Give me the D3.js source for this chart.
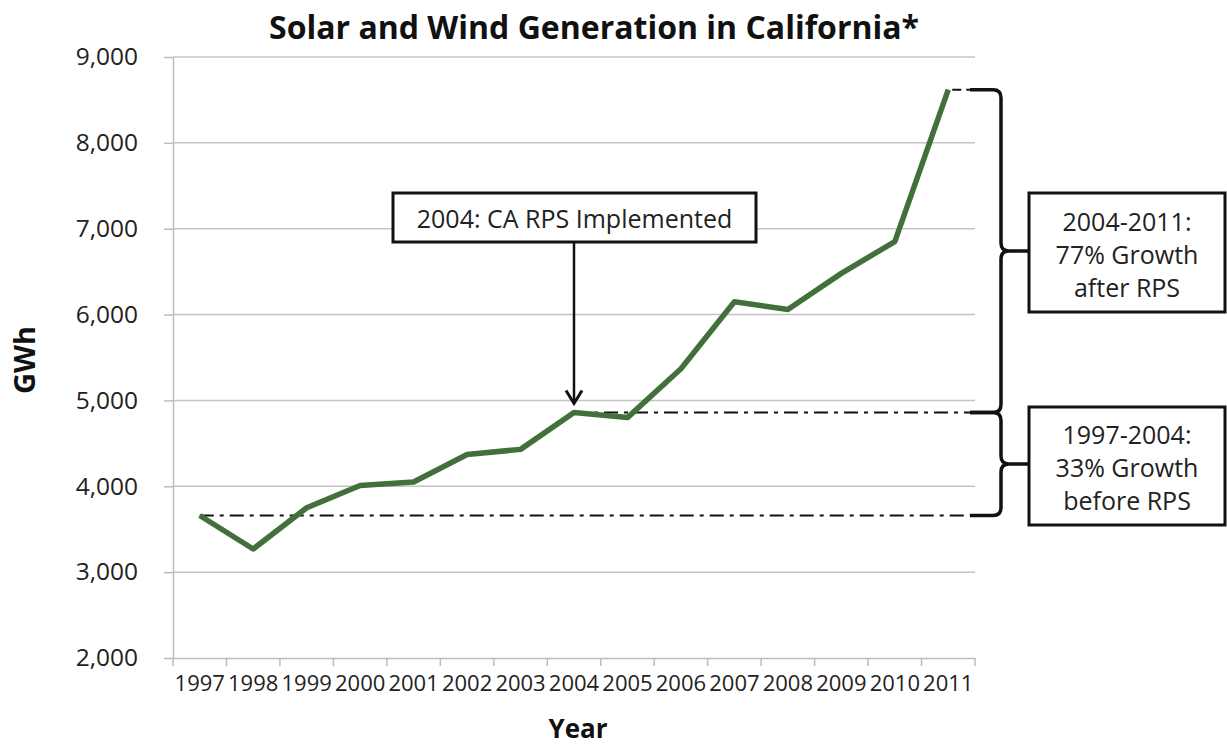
<!DOCTYPE html>
<html>
<head>
<meta charset="utf-8">
<script src="https://cdn.jsdelivr.net/npm/d3@7"></script>
<style>
  body { margin: 0; background: #fff; }
  svg { display: block; font-family: "Open Sans", sans-serif; }
</style>
</head>
<body>
<div id="chart"></div>
<script>
// Data
const years = ["1997", "1998", "1999", "2000", "2001", "2002", "2003", "2004",
  "2005", "2006", "2007", "2008", "2009", "2010", "2011"];
const gwh = [3660, 3270, 3750, 4010, 4050, 4370, 4430, 4860,
  4800, 5370, 6150, 6060, 6480, 6850, 8620];
const yTicks = [2000, 3000, 4000, 5000, 6000, 7000, 8000, 9000];
const arrowNote = "2004: CA RPS Implemented";
const afterNote = ["2004-2011:", "77% Growth", "after RPS"];
const beforeNote = ["1997-2004:", "33% Growth", "before RPS"];

const dimensions = {
  width: 1227,
  height: 747,
  left: 173,
  right: 975,
  top: 57,
  bottom: 658,
};

const svg = d3.select("#chart")
  .append("svg")
  .attr("width", dimensions.width)
  .attr("height", dimensions.height);

// Scales
const xScale = d3.scaleBand()
  .domain(years)
  .range([dimensions.left, dimensions.right]);
const xMid = (yr) => xScale(yr) + xScale.bandwidth() / 2;

const yScale = d3.scaleLinear()
  .domain([2000, 9000])
  .range([dimensions.bottom, dimensions.top]);

// Gridlines
svg.append("g")
  .selectAll("line")
  .data(yTicks.slice(1))
  .join("line")
  .attr("x1", dimensions.left)
  .attr("x2", dimensions.right)
  .attr("y1", (d) => yScale(d))
  .attr("y2", (d) => yScale(d))
  .attr("stroke", "#c4c4c4")
  .attr("stroke-width", 1.5);

// Y axis
const yAxis = d3.axisLeft(yScale)
  .tickValues(yTicks)
  .tickFormat(d3.format(","))
  .tickSize(9)
  .tickPadding(26)
  .tickSizeOuter(0);
const yAxisG = svg.append("g")
  .attr("transform", `translate(${dimensions.left},0)`)
  .call(yAxis);
yAxisG.select(".domain").attr("stroke", "#bdbdbd").attr("stroke-width", 1.5);
yAxisG.selectAll(".tick line").attr("stroke", "#bdbdbd").attr("stroke-width", 1.5);
yAxisG.selectAll(".tick text")
  .attr("font-size", 24.5)
  .attr("fill", "#222")
  .attr("font-family", "Open Sans");

// X axis (labels centered, tick marks between categories)
const xAxis = d3.axisBottom(xScale).tickSize(0).tickPadding(17);
const xAxisG = svg.append("g")
  .attr("transform", `translate(0,${dimensions.bottom})`)
  .call(xAxis);
xAxisG.select(".domain").attr("stroke", "#bdbdbd").attr("stroke-width", 1.5);
xAxisG.selectAll(".tick text")
  .attr("font-size", 22)
  .attr("fill", "#222")
  .attr("dy", "0.71em")
  .attr("font-family", "Open Sans");
svg.append("g")
  .selectAll("line")
  .data(years.concat(["end"]))
  .join("line")
  .attr("x1", (d, i) => i < years.length ? xScale(d) : dimensions.right)
  .attr("x2", (d, i) => i < years.length ? xScale(d) : dimensions.right)
  .attr("y1", dimensions.bottom)
  .attr("y2", dimensions.bottom + 8)
  .attr("stroke", "#bdbdbd")
  .attr("stroke-width", 1.5);

// Reference dash-dot lines
const v1997 = gwh[0];
const v2004 = gwh[years.indexOf("2004")];
const v2011 = gwh[gwh.length - 1];
const braceX = 1001;

svg.append("line")
  .attr("x1", xMid("1997")).attr("x2", 972)
  .attr("y1", yScale(v1997)).attr("y2", yScale(v1997))
  .attr("stroke", "#111").attr("stroke-width", 2)
  .attr("stroke-dasharray", "14,6,4,6");
svg.append("line")
  .attr("x1", xMid("2004")).attr("x2", 972)
  .attr("y1", yScale(v2004)).attr("y2", yScale(v2004))
  .attr("stroke", "#111").attr("stroke-width", 2)
  .attr("stroke-dasharray", "14,6,4,6");
svg.append("line")
  .attr("x1", xMid("2011") + 4).attr("x2", 972)
  .attr("y1", yScale(v2011)).attr("y2", yScale(v2011))
  .attr("stroke", "#111").attr("stroke-width", 2)
  .attr("stroke-dasharray", "9,5");

// The line
const lineGenerator = d3.line()
  .x((d, i) => xMid(years[i]))
  .y((d) => yScale(d));
svg.append("path")
  .datum(gwh)
  .attr("d", lineGenerator)
  .attr("fill", "none")
  .attr("stroke", "#42703a")
  .attr("stroke-width", 5.5)
  .attr("stroke-linejoin", "round");

// Braces
function brace(y1, y2) {
  const ym = (y1 + y2) / 2;
  const r = 8;
  return `M970,${y1} L${braceX - r},${y1} Q${braceX},${y1} ${braceX},${y1 + r}` +
    ` L${braceX},${ym - r} Q${braceX},${ym} ${braceX + r},${ym}` +
    ` Q${braceX},${ym} ${braceX},${ym + r} L${braceX},${y2 - r}` +
    ` Q${braceX},${y2} ${braceX - r},${y2} L970,${y2}` +
    ` M${braceX + r},${ym} L1029,${ym}`;
}
svg.append("path")
  .attr("d", brace(yScale(v2011), yScale(v2004)))
  .attr("fill", "none").attr("stroke", "#111").attr("stroke-width", 3.5);
svg.append("path")
  .attr("d", brace(yScale(v2004), yScale(v1997)))
  .attr("fill", "none").attr("stroke", "#111").attr("stroke-width", 3.5);

// Note boxes
function noteBox(x, y, w, h, lines, lineY) {
  svg.append("rect")
    .attr("x", x).attr("y", y).attr("width", w).attr("height", h)
    .attr("fill", "#fff").attr("stroke", "#111").attr("stroke-width", 3);
  svg.append("g")
    .selectAll("text")
    .data(lines)
    .join("text")
    .attr("x", x + w / 2)
    .attr("y", (d, i) => lineY + i * 33)
    .attr("text-anchor", "middle")
    .attr("dominant-baseline", "central")
    .attr("font-size", 25)
    .attr("fill", "#222")
    .text((d) => d);
}
noteBox(1029, 193, 196, 119, afterNote, 221);
noteBox(1029, 407, 196, 118, beforeNote, 434);

// Arrow annotation
const arrowX = xMid("2004");
svg.append("line")
  .attr("x1", arrowX).attr("x2", arrowX)
  .attr("y1", 242).attr("y2", yScale(v2004) - 9)
  .attr("stroke", "#111").attr("stroke-width", 2.5);
svg.append("path")
  .attr("d", `M${arrowX - 8},${yScale(v2004) - 22} L${arrowX},${yScale(v2004) - 9} L${arrowX + 8},${yScale(v2004) - 22}`)
  .attr("fill", "none").attr("stroke", "#111").attr("stroke-width", 3);
svg.append("rect")
  .attr("x", 393).attr("y", 193).attr("width", 363).attr("height", 49)
  .attr("fill", "#fff").attr("stroke", "#111").attr("stroke-width", 3);
svg.append("text")
  .attr("x", 393 + 363 / 2).attr("y", 218)
  .attr("text-anchor", "middle")
  .attr("dominant-baseline", "central")
  .attr("font-size", 25)
  .attr("fill", "#222")
  .text(arrowNote);

// Titles
svg.append("text")
  .attr("x", 594).attr("y", 39)
  .attr("text-anchor", "middle")
  .attr("font-size", 32)
  .attr("font-weight", "bold")
  .attr("fill", "#111")
  .text("Solar and Wind Generation in California*");
svg.append("text")
  .attr("x", 578).attr("y", 738)
  .attr("text-anchor", "middle")
  .attr("font-size", 26)
  .attr("font-weight", "bold")
  .attr("fill", "#111")
  .text("Year");
svg.append("text")
  .attr("transform", "translate(35,360) rotate(-90)")
  .attr("text-anchor", "middle")
  .attr("font-size", 29)
  .attr("font-weight", "bold")
  .attr("fill", "#111")
  .text("GWh");
</script>
</body>
</html>
